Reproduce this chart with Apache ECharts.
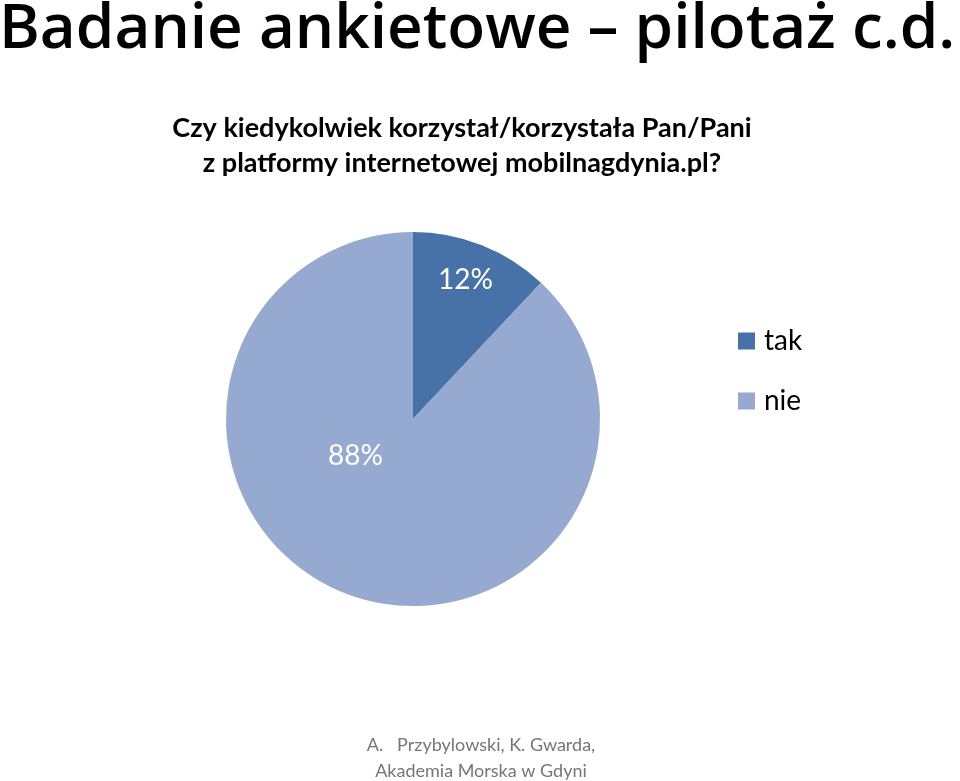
<!DOCTYPE html>
<html>
<head>
<meta charset="utf-8">
<script src="https://cdn.jsdelivr.net/npm/echarts@6/dist/echarts.min.js"></script>
<style>
  html, body { margin: 0; padding: 0; background: #fff; }
  #chart { width: 960px; height: 781px; }
</style>
</head>
<body>
<div id="chart"></div>
<script>
// dane z ankiety
const categories = ['tak', 'nie'];
const values = [12, 88];
const colors = ['#4672a8', '#95a9d1'];
// przesunięcia etykiet jak w oryginale (Excel)
const labelOffsets = [[17, -49], [-22, -53]];

const font = 'Lato';

let myChart = echarts.init(document.getElementById('chart'));

// teksty jako elementy graphic - łatwiej je ustawić co do piksela
function txt(text, x, y, size, weight, color, align, family) {
  return {
    type: 'text',
    x: x,
    y: y,
    style: {
      text: text,
      fontFamily: family || font,
      fontSize: size,
      fontWeight: weight,
      fill: color,
      textAlign: align,
      textVerticalAlign: 'middle'
    }
  };
}

const option = {
  backgroundColor: '#fff',
  animation: false,
  graphic: [
    txt('Badanie ankietowe – pilotaż c.d.', -1, 30, 62, 600, '#000', 'left', 'Open Sans'),
    txt('Czy kiedykolwiek korzystał/korzystała Pan/Pani', 462, 128, 27, 'bold', '#000', 'center'),
    txt('z platformy internetowej mobilnagdynia.pl?', 462, 163, 27, 'bold', '#000', 'center'),
    txt('A.   Przybylowski, K. Gwarda,', 481, 745, 18, 'normal', '#767676', 'center'),
    txt('Akademia Morska w Gdyni', 481, 771, 18, 'normal', '#767676', 'center')
  ],
  legend: {
    orient: 'vertical',
    left: 733,
    top: 322,
    itemWidth: 17,
    itemHeight: 17,
    itemGap: 32,
    icon: 'rect',
    data: categories,
    textStyle: { fontFamily: font, fontSize: 28, color: '#000', padding: [0, 0, 0, 4] }
  },
  series: [
    {
      type: 'pie',
      center: [413, 419],
      radius: [0, 187],
      startAngle: 90,
      clockwise: true,
      label: {
        show: true,
        position: 'inside',
        formatter: '{d}%',
        color: '#fff',
        fontFamily: font,
        fontSize: 28
      },
      labelLine: { show: false },
      itemStyle: { borderWidth: 0 },
      emphasis: { disabled: true },
      data: categories.map((name, i) => ({
        name: name,
        value: values[i],
        itemStyle: { color: colors[i] },
        label: { offset: labelOffsets[i] }
      }))
    }
  ]
};

myChart.setOption(option);
</script>
</body>
</html>
